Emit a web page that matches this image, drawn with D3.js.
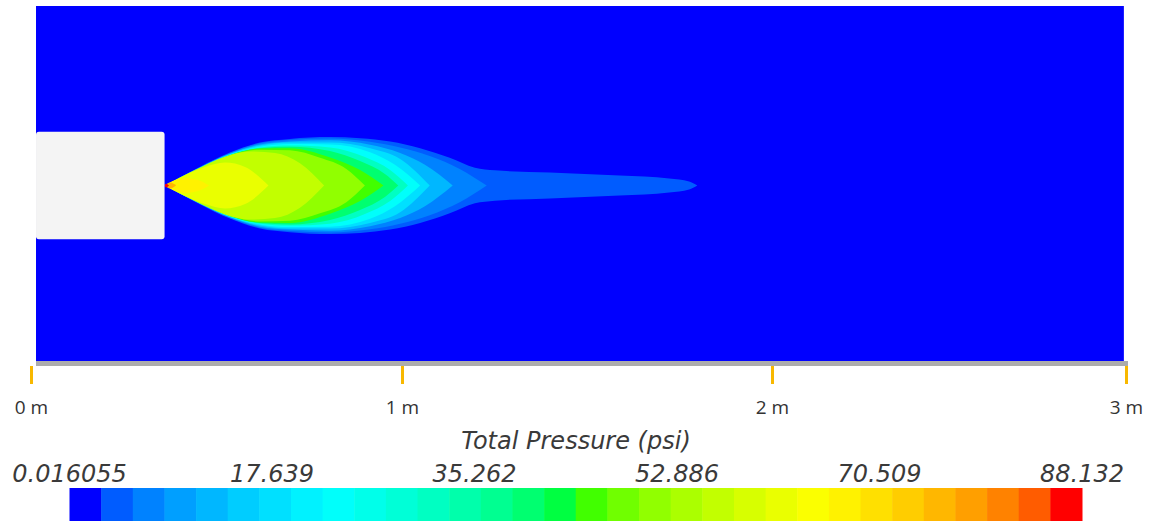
<!DOCTYPE html>
<html>
<head>
<meta charset="utf-8">
<script src="https://cdn.jsdelivr.net/npm/d3@7"></script>
<style>
body { margin: 0; background: #fff; }
svg { display: block; }
</style>
</head>
<body>
<div id="chart"></div>
<script>
// distances in metres, pressure in psi
var distTicks = [0, 1, 2, 3];
var fieldX = [0.0135, 2.994];
var fieldY = [-0.474, 0.485];
var nozzleExit = 0.36;
var nozzleHalfHeight = 0.145;

var pMin = 0.016055, pMax = 88.132, nBins = 32;
var colorTicks = [0.016055, 17.639, 35.262, 52.886, 70.509, 88.132];
var colorTickLabels = ["0.016055", "17.639", "35.262", "52.886", "70.509", "88.132"];

// plume contour bands: pressure level and [x, half-width] profile
var bandLevels = [4.15, 6.90, 12.41, 17.91, 23.42, 31.68, 39.94, 45.45, 50.96, 56.46, 61.97, 67.48, 75.74, 86.76];
var bandProfiles = [
  [[0.361,0],[0.402,.022],[0.456,.051],[0.536,.089],[0.617,.116],[0.698,.126],[0.806,.131],[0.887,.128],[0.968,.119],[1.049,.101],[1.129,.075],[1.197,.048],[1.251,.041],[1.399,.035],[1.588,.027],[1.722,.019],[1.776,.011],[1.798,0]],
  [[0.361,0],[0.456,.050],[0.536,.088],[0.617,.114],[0.698,.123],[0.806,.127],[0.914,.118],[0.995,.103],[1.075,.080],[1.156,.045],[1.229,0]],
  [[0.361,0],[0.456,.049],[0.536,.086],[0.617,.111],[0.698,.119],[0.806,.122],[0.914,.110],[0.995,.088],[1.062,.056],[1.137,0]],
  [[0.361,0],[0.456,.049],[0.536,.085],[0.617,.108],[0.698,.116],[0.806,.116],[0.914,.101],[0.995,.072],[1.075,0]],
  [[0.361,0],[0.456,.047],[0.536,.084],[0.617,.105],[0.698,.112],[0.806,.111],[0.914,.090],[0.981,.056],[1.049,0]],
  [[0.361,0],[0.456,.047],[0.536,.082],[0.617,.103],[0.698,.108],[0.806,.103],[0.900,.077],[0.968,.042],[1.016,0]],
  [[0.361,0],[0.456,.047],[0.536,.082],[0.617,.101],[0.698,.105],[0.806,.093],[0.887,.066],[0.954,.031],[0.990,0]],
  [[0.361,0],[0.456,.047],[0.536,.082],[0.617,.100],[0.698,.101],[0.806,.076],[0.887,.042],[0.950,0]],
  [[0.361,0],[0.456,.046],[0.536,.081],[0.617,.097],[0.698,.095],[0.779,.075],[0.850,.045],[0.900,0]],
  [[0.361,0],[0.442,.042],[0.523,.078],[0.590,.092],[0.658,.088],[0.725,.060],[0.790,0]],
  [[0.361,0],[0.415,.028],[0.469,.050],[0.523,.062],[0.577,.050],[0.640,0]],
  [[0.361,0],[0.388,.014],[0.415,.020],[0.450,.015],[0.480,0]],
  [[0.361,0],[0.375,.008],[0.391,0]],
  [[0.360,0],[0.364,.005],[0.372,0]]
];

var width = 1150, height = 523;
var svg = d3.select("#chart").append("svg")
    .attr("width", width)
    .attr("height", height);

var x = d3.scaleLinear().domain(distTicks).range([31, 402, 772, 1126]);
var y = d3.scaleLinear().domain(fieldY).range([361, 6]);

// rainbow colormap, sqrt ramp inside each segment
function rainbow(t) {
    var p = t * 4, k = Math.min(3, Math.floor(p)), f = p - k;
    var up = Math.sqrt(f) * 255, dn = Math.sqrt(1 - f) * 255;
    var c = [[0, up, 255], [0, 255, dn], [up, 255, 0], [255, dn, 0]][k];
    return d3.rgb(c[0], c[1], c[2]).formatHex();
}
var color = d3.scaleQuantize()
    .domain([pMin, pMax])
    .range(d3.range(nBins).map(function(i) { return rainbow(i / (nBins - 1)); }));

// domain background
svg.append("rect")
    .attr("x", x(fieldX[0]))
    .attr("y", y(fieldY[1]))
    .attr("width", x(fieldX[1]) - x(fieldX[0]))
    .attr("height", y(fieldY[0]) - y(fieldY[1]))
    .attr("fill", color(pMin));

var area = d3.area()
    .x(function(d) { return x(d[0]); })
    .y0(function(d) { return y(-d[1]); })
    .y1(function(d) { return y(d[1]); })
    .curve(d3.curveMonotoneX);

svg.append("g").selectAll("path")
    .data(bandProfiles)
    .enter().append("path")
    .attr("d", area)
    .attr("fill", function(d, i) { return color(bandLevels[i]); });

// nozzle body
svg.append("rect")
    .attr("x", x(fieldX[0]))
    .attr("y", y(nozzleHalfHeight))
    .attr("width", x(nozzleExit) - x(fieldX[0]))
    .attr("height", y(-nozzleHalfHeight) - y(nozzleHalfHeight))
    .attr("rx", 3)
    .attr("fill", "#f4f4f4");

// ruler
svg.append("rect")
    .attr("x", x(fieldX[0]))
    .attr("y", 361)
    .attr("width", x(3) + 2 - x(fieldX[0]))
    .attr("height", 5)
    .attr("fill", "#acacac");

var axis = svg.append("g")
    .attr("transform", "translate(0,366)")
    .call(d3.axisBottom(x)
        .tickValues(distTicks)
        .tickSize(18)
        .tickPadding(17)
        .tickFormat(function(d) { return d + " m"; }));
axis.select(".domain").remove();
axis.selectAll(".tick line").attr("stroke", "#f8b800").attr("stroke-width", 3);
axis.selectAll(".tick text")
    .attr("fill", "#333")
    .style("font-family", "'Open Sans', sans-serif")
    .style("font-size", "19px");

// colour bar
var cx = d3.scaleLinear().domain([pMin, pMax]).range([69.5, 1082]);
var binW = (pMax - pMin) / nBins;

svg.append("text")
    .attr("x", 576)
    .attr("y", 449)
    .attr("text-anchor", "middle")
    .attr("fill", "#3a3a3a")
    .style("font-family", "'DejaVu Sans', sans-serif")
    .style("font-style", "italic")
    .style("font-size", "24px")
    .text("Total Pressure (psi)");

svg.append("g").selectAll("rect")
    .data(d3.range(nBins))
    .enter().append("rect")
    .attr("x", function(i) { return cx(pMin + i * binW); })
    .attr("y", 488)
    .attr("width", function(i) { return cx(pMin + (i + 1) * binW) - cx(pMin + i * binW) + 0.5; })
    .attr("height", 33)
    .attr("fill", function(i) { return color(pMin + (i + 0.5) * binW); });

svg.append("g").selectAll("text")
    .data(colorTicks)
    .enter().append("text")
    .attr("x", function(d) { return cx(d); })
    .attr("y", 482)
    .attr("text-anchor", "middle")
    .attr("fill", "#3a3a3a")
    .style("font-family", "'DejaVu Sans', sans-serif")
    .style("font-style", "italic")
    .style("font-size", "24px")
    .text(function(d, i) { return colorTickLabels[i]; });
</script>
</body>
</html>
